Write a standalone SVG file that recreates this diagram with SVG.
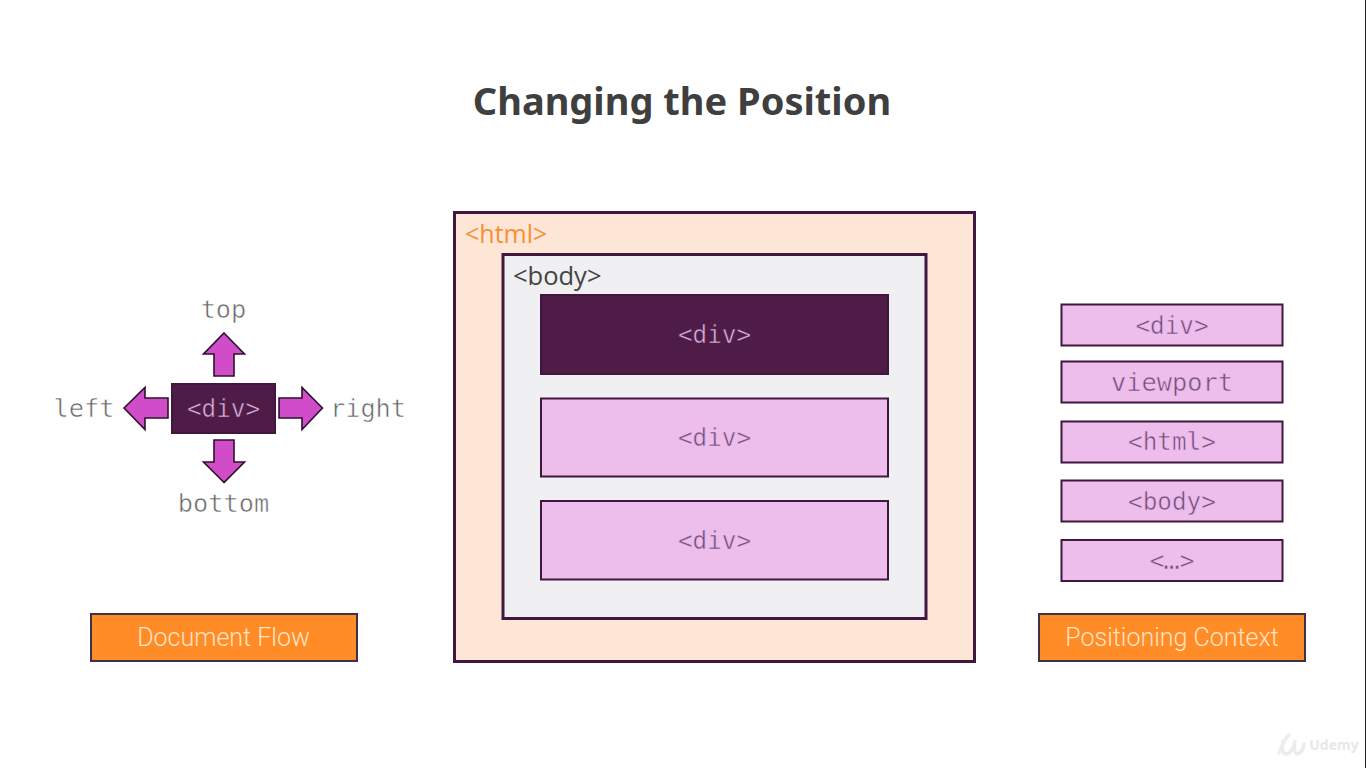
<svg xmlns="http://www.w3.org/2000/svg" width="1366" height="768" viewBox="0 0 1366 768">
<style>
.mono{font-family:"DejaVu Sans Mono","Liberation Mono",monospace;font-size:24.3px;text-anchor:middle;stroke-width:.55px}
.word{font-size:25.3px}
.g{fill:#666666;stroke:#ffffff}
.lt{fill:#dcb0dc;stroke:#4f1c48}
.dk{fill:#6f4f7a;stroke:#edbdec}
.pink{fill:#edbdec;stroke:#40183f;stroke-width:2}
.dark{fill:#4f1c48;stroke:#40183f;stroke-width:2}
.orange{fill:#ff8c26;stroke:#40304a;stroke-width:2}
.olab{font-family:"Roboto",sans-serif;font-weight:300;font-size:25px;fill:#ffe3c4;text-anchor:middle}
.sans{font-family:"Open Sans","Noto Sans",sans-serif}
.arrow{fill:#d04cc8;stroke:#2e1030;stroke-width:1.6;stroke-linejoin:miter}
.box{stroke:#40183f;stroke-width:3}
</style>
<rect width="1366" height="768" fill="#ffffff"/>
<rect x="1365" y="0" width="1" height="768" fill="#222222"/>
<text id="title" x="682" y="115" font-family="'Noto Sans','Open Sans',sans-serif" font-weight="700" font-size="38" fill="#3f3f3f" text-anchor="middle">Changing the Position</text>

<g id="connectors">
<path class="arrow" d="M224 333 L244.500 354 L234 354 L234 376 L214 376 L214 354 L203.500 354 Z"/>
<path class="arrow" d="M224 482.500 L203.500 462 L214 462 L214 440 L234 440 L234 462 L244.500 462 Z"/>
<path class="arrow" d="M124 408 L145 387.500 L145 398 L168 398 L168 418 L145 418 L145 429.500 Z"/>
<path class="arrow" d="M322.500 408 L302 387.500 L302 398 L279 398 L279 418 L302 418 L302 429.500 Z"/>
</g>

<g id="flow-div"><rect class="dark" x="172" y="384" width="103" height="49"/><text class="mono lt" x="223.500" y="417">&lt;div&gt;</text></g>
<g id="label-top"><text class="mono word g" x="223.500" y="318">top</text></g>
<g id="label-bottom"><text class="mono word g" x="223.500" y="512">bottom</text></g>
<g id="label-left"><text class="mono word g" x="84" y="417">left</text></g>
<g id="label-right"><text class="mono word g" x="368" y="417">right</text></g>
<g id="document-flow"><rect class="orange" x="91" y="614" width="266" height="47"/><text class="olab" x="223.500" y="645.500">Document Flow</text></g>

<g id="html"><rect class="box" x="454.500" y="212.500" width="520" height="449" fill="#fee6d6"/><text class="sans" x="465" y="243" font-size="25" fill="#f78f35">&lt;html&gt;</text></g>
<g id="body"><rect class="box" x="503" y="254.500" width="423" height="364" fill="#f0eff1"/><text class="sans" x="513" y="285" font-size="25.500" fill="#444444">&lt;body&gt;</text></g>
<g id="div-1"><rect class="dark" x="541" y="295" width="347" height="79"/><text class="mono lt" x="714.500" y="343">&lt;div&gt;</text></g>
<g id="div-2"><rect class="pink" x="541" y="398.500" width="347" height="78"/><text class="mono dk" x="714.500" y="446">&lt;div&gt;</text></g>
<g id="div-3"><rect class="pink" x="541" y="501" width="347" height="78.500"/><text class="mono dk" x="714.500" y="549">&lt;div&gt;</text></g>

<g id="ctx-div"><rect class="pink" x="1061.500" y="304.500" width="221" height="41"/><text class="mono dk" x="1172" y="334">&lt;div&gt;</text></g>
<g id="ctx-viewport"><rect class="pink" x="1061.500" y="361.500" width="221" height="41"/><text class="mono word dk" x="1172" y="391">viewport</text></g>
<g id="ctx-html"><rect class="pink" x="1061.500" y="421.500" width="221" height="41"/><text class="mono dk" x="1172" y="450">&lt;html&gt;</text></g>
<g id="ctx-body"><rect class="pink" x="1061.500" y="480.500" width="221" height="41"/><text class="mono dk" x="1172" y="510">&lt;body&gt;</text></g>
<g id="ctx-more"><rect class="pink" x="1061.500" y="540" width="221" height="41"/><text class="mono dk" style="text-anchor:start" x="1149.700 1158.700 1164.200 1169.700 1179.700" y="569">&lt;...&gt;</text></g>
<g id="positioning-context"><rect class="orange" x="1039" y="614" width="266" height="47"/><text class="olab" x="1172" y="645.500">Positioning Context</text></g>

<g id="udemy">
<path d="M1279 753 Q1285 738 1289 735 M1283 741 Q1281 755 1287 754 Q1293 752 1295 740 Q1293 754 1298 754 Q1303 752 1304 744" fill="none" stroke="#ececec" stroke-width="3.500" stroke-linecap="round"/>
<text x="1334" y="750" font-family="'Noto Sans',sans-serif" font-weight="700" font-size="14" fill="#e8e8e8" text-anchor="middle">Udemy</text>
</g>
</svg>
